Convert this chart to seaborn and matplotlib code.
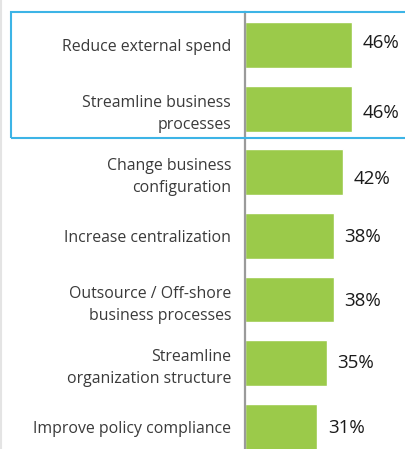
import matplotlib
matplotlib.use("Agg")
import matplotlib.pyplot as plt
import seaborn as sns
import pandas as pd
from matplotlib.patches import Rectangle
from matplotlib.lines import Line2D

# chart data
categories = [
    "Reduce external spend",
    "Streamline business\nprocesses",
    "Change business\nconfiguration",
    "Increase centralization",
    "Outsource / Off-shore\nbusiness processes",
    "Streamline\norganization structure",
    "Improve policy compliance",
]
values = [46, 46, 42, 38, 38, 35, 31]
value_labels = ["46%", "46%", "42%", "38%", "38%", "35%", "31%"]

df = pd.DataFrame({"category": categories, "value": values})

sns.set_theme(style="white")
plt.rcParams["font.family"] = ["Open Sans", "DejaVu Sans"]

fig = plt.figure(figsize=(4.06, 4.49), dpi=100)
ax = fig.add_axes([245 / 406, 0.0, 150 / 406, 1 - 12 / 449])

sns.barplot(data=df, x="value", y="category", color="#9BCA4A",
            saturation=1, width=0.72, ax=ax)

ax.set_xlim(0, 150 / 2.33)
ax.set_ylim(6.35, -0.52)
ax.set_xlabel("")
ax.set_ylabel("")
ax.set_xticks([])
ax.tick_params(axis="y", length=0, pad=10, labelsize=11.4, labelcolor="#3a3a3a")
for lab in ax.get_yticklabels():
    lab.set_horizontalalignment("right")
    lab.set_multialignment("right")
    lab.set_linespacing(1.5)

for s in ["top", "right", "bottom"]:
    ax.spines[s].set_visible(False)
ax.spines["left"].set_color("#9a9a9a")
ax.spines["left"].set_linewidth(1.6)

# value labels (small vertical nudges as in the original layout)
nudges = [-0.03, 0.06, 0.11, 0.02, 0.03, 0.0, 0.02]
for i, (v, t) in enumerate(zip(values, value_labels)):
    ax.text(v + 4.5, i + nudges[i], t, va="center", ha="left", fontsize=13.5,
            color="#1a1a1a")

# highlight box around the top two items
fig.patches.append(Rectangle((11 / 406, 1 - 137.5 / 449), 400 / 406, 126 / 449,
                             transform=fig.transFigure, fill=False,
                             edgecolor="#3DB4E6", linewidth=1.5))
# faint page edge at the left
fig.lines.append(Line2D([0.5 / 406, 0.5 / 406], [0, 1], transform=fig.transFigure,
                        color="#e4e4e4", linewidth=1.5))

fig.savefig("out.png", dpi=100)
